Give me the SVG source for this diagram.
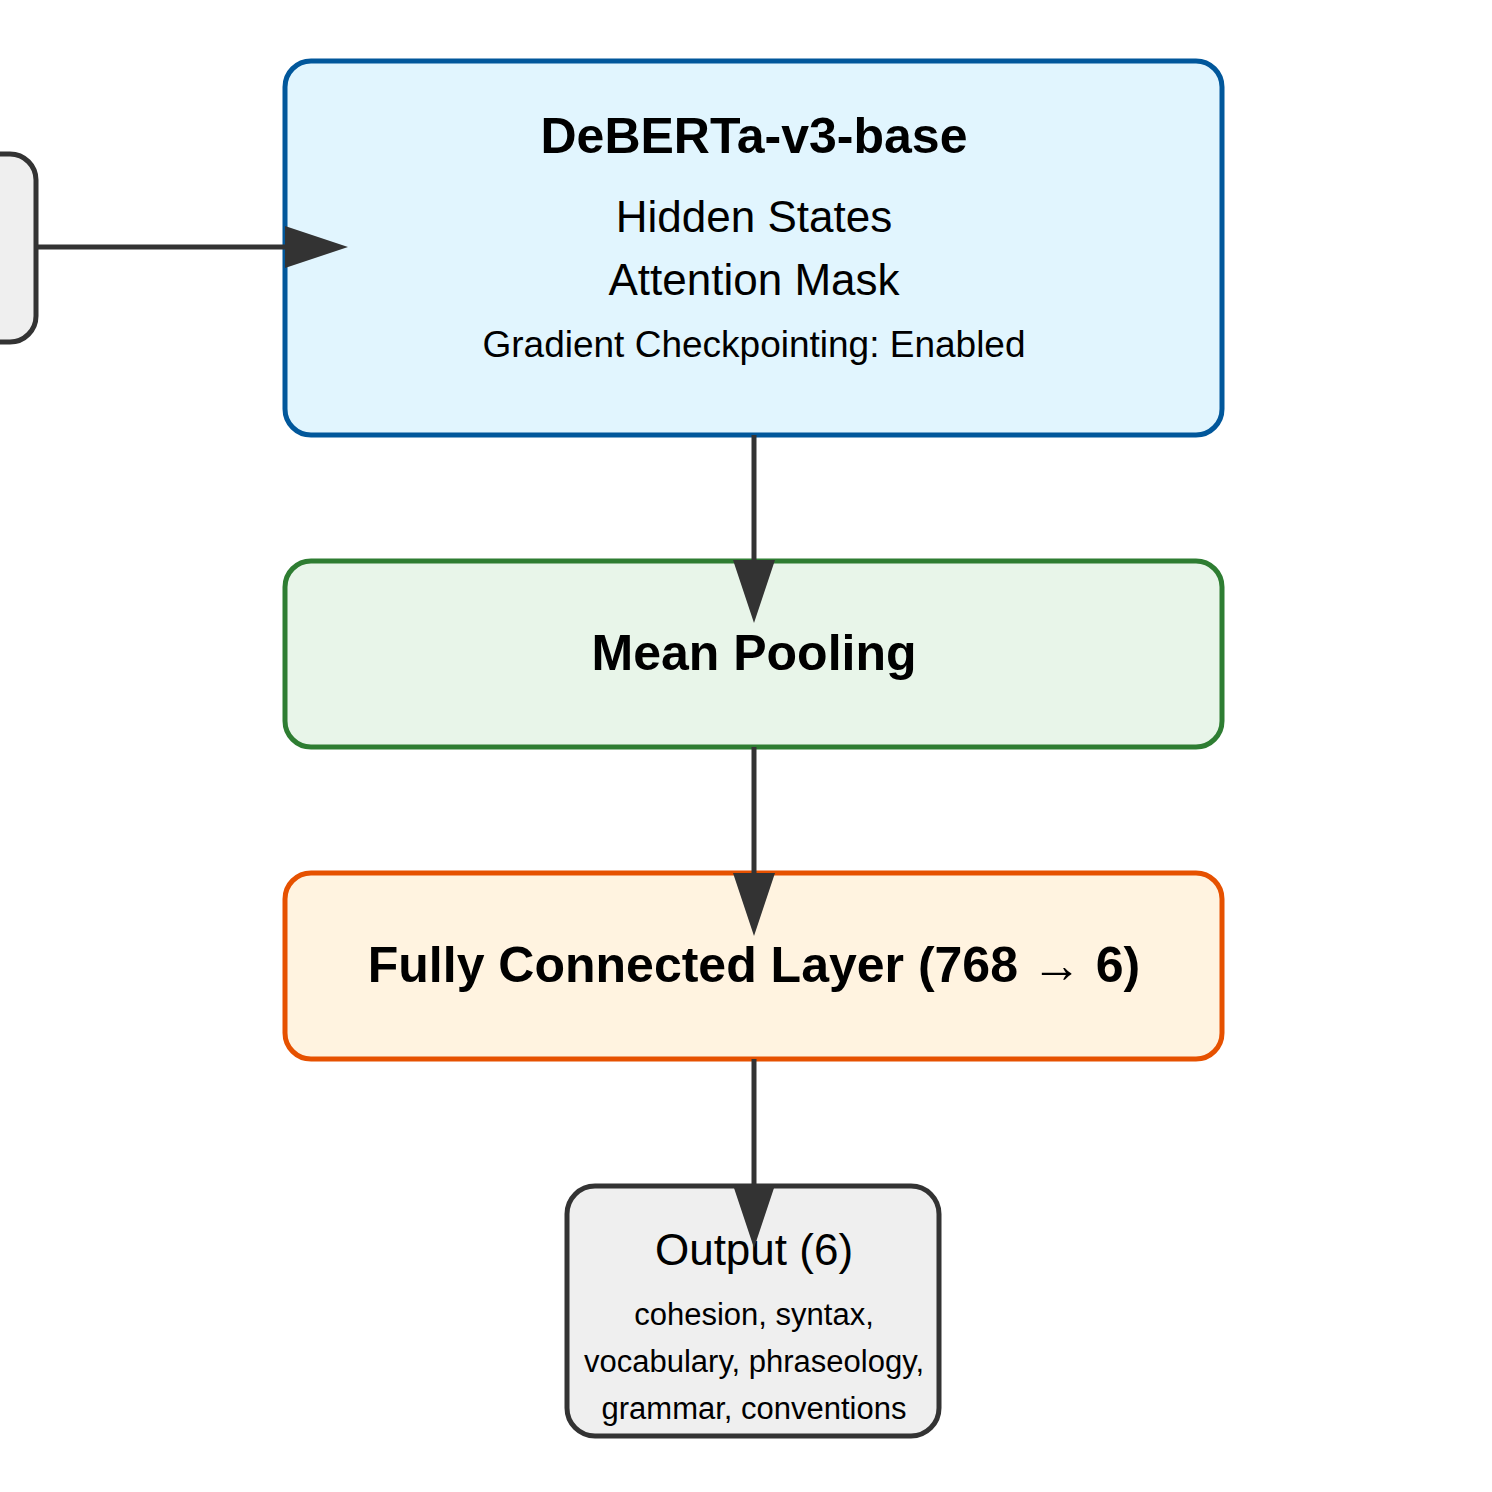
<svg xmlns="http://www.w3.org/2000/svg" width="1492" height="1492" viewBox="0 0 1492 1492">
  <defs>
    <marker id="arrowhead" viewBox="0 0 63 42" refX="0" refY="21" markerWidth="63" markerHeight="42" markerUnits="userSpaceOnUse" orient="auto">
      <path d="M0,0 L63,21 L0,42 Z" fill="#333333"/>
    </marker>
  </defs>
  <style>
    text { font-family: "Liberation Sans", Arial, Helvetica, sans-serif; fill: #000000; text-anchor: middle; }
    .title { font-weight: bold; font-size: 50px; }
    .line { font-size: 44px; }
    .note { font-size: 37px; }
    .small { font-size: 31px; }
    .edge { fill: none; stroke: #333333; stroke-width: 5; marker-end: url(#arrowhead); }
    .grey { fill: #efefef; stroke: #333333; stroke-width: 5; }
    .blue { fill: #e1f5fe; stroke: #01579b; stroke-width: 5; }
    .green { fill: #e8f5e9; stroke: #2e7d32; stroke-width: 5; }
    .orange { fill: #fff3e0; stroke: #e65100; stroke-width: 5; }
  </style>

  <rect width="1492" height="1492" fill="#ffffff"/>

  <!-- input node, mostly off the left edge -->
  <g id="input">
    <rect class="grey" x="-240" y="154" width="276" height="188" rx="26"/>
  </g>

  <g id="deberta">
    <rect class="blue" x="285" y="61" width="937" height="374" rx="26"/>
    <text class="title" x="754" y="153">DeBERTa-v3-base</text>
    <text class="line" x="754" y="232">Hidden States</text>
    <text class="line" x="754" y="295">Attention Mask</text>
    <text class="note" x="754" y="357">Gradient Checkpointing: Enabled</text>
  </g>

  <g id="pooling">
    <rect class="green" x="285" y="561" width="937" height="186" rx="26"/>
    <text class="title" x="754" y="670">Mean Pooling</text>
  </g>

  <g id="fc">
    <rect class="orange" x="285" y="873" width="937" height="186" rx="26"/>
    <text class="title" x="754" y="982">Fully Connected Layer (768 → 6)</text>
  </g>

  <g id="output">
    <rect class="grey" x="567" y="1186" width="372" height="250" rx="28"/>
    <text class="line" x="754" y="1265">Output (6)</text>
    <text class="small" x="754" y="1325">cohesion, syntax,</text>
    <text class="small" x="754" y="1372">vocabulary, phraseology,</text>
    <text class="small" x="754" y="1419">grammar, conventions</text>
  </g>

  <g id="connectors">
    <path class="edge" d="M36,247 L285,247"/>
    <path class="edge" d="M754,435 L754,560"/>
    <path class="edge" d="M754,747 L754,873"/>
    <path class="edge" d="M754,1059 L754,1185"/>
  </g>
</svg>
